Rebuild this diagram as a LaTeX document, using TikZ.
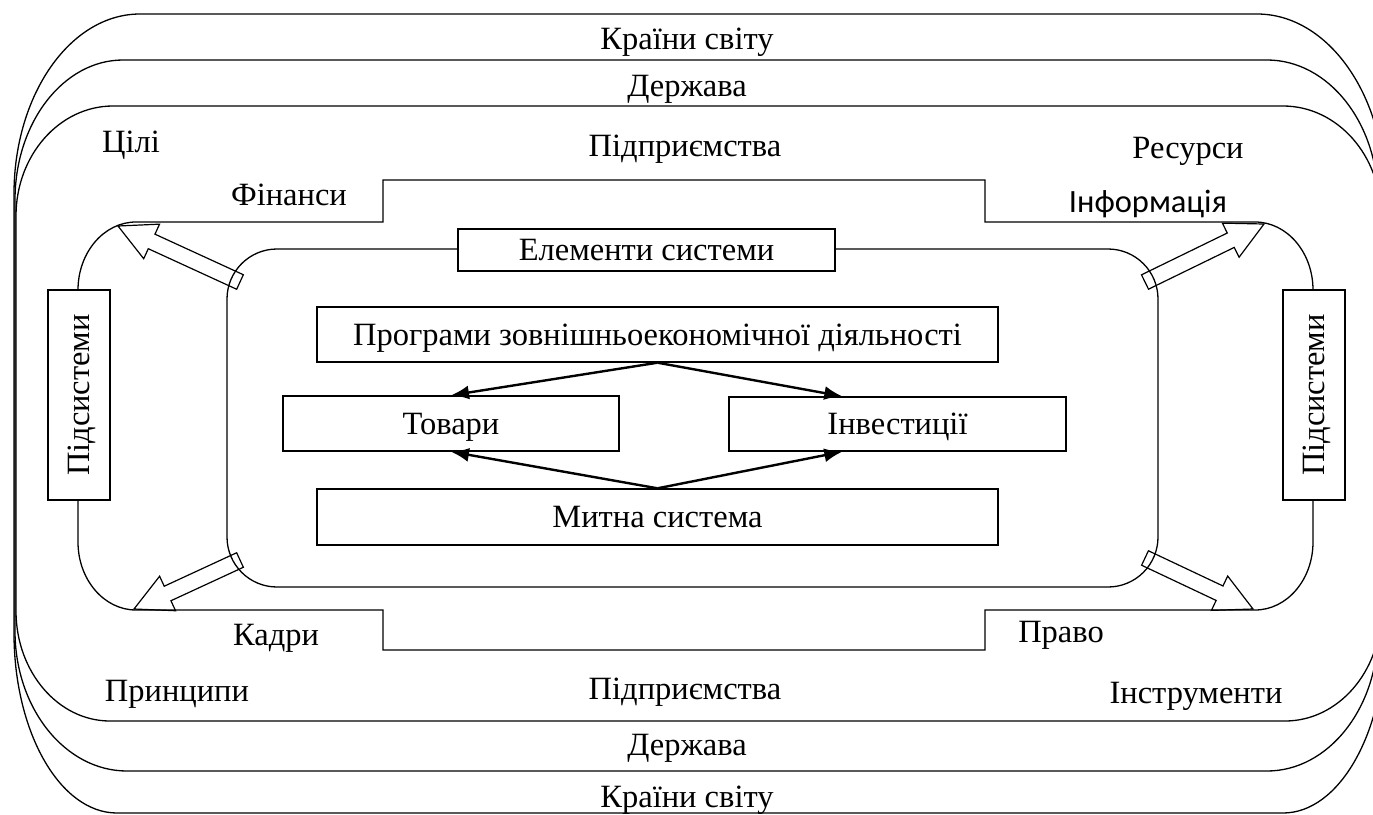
\documentclass[tikz,border=0pt]{standalone}
\usepackage{fontspec}
\setmainfont{Liberation Serif}
\newfontfamily\calibfont{Carlito}
\usetikzlibrary{calc,arrows.meta}
\tikzset{
  lbl/.style={font=\fontsize{32.5}{38}\selectfont, inner sep=0pt, text height=21.5pt, text depth=0pt},
  box/.style={lbl, draw, fill=white, line width=1.4pt},
  outline/.style={line width=1.3pt},
  flow/.style={line width=2.4pt, -{Latex[length=18pt,width=14pt]}},
  blk/.style={line width=1.2pt, line join=miter},
}
\newcommand\hollowarrow[2]{%
  \path ($(#2)!37pt!(#1)$) coordinate (hb);
  \draw[blk] ($(#1)!8pt!90:(#2)$) -- ($(hb)!8pt!-90:(#1)$) -- ($(hb)!19pt!-90:(#1)$) -- (#2)
    -- ($(hb)!19pt!90:(#1)$) -- ($(hb)!8pt!90:(#1)$) -- ($(#1)!8pt!-90:(#2)$) -- cycle;
}
\begin{document}
\begin{tikzpicture}[x=1pt,y=-1pt]
\useasboundingbox (0,0) rectangle (1373,814);
\begin{scope}
\clip (0,0) rectangle (1373,814);
% outer layers
\draw[outline] (140,14) -- (1257,14) arc[start angle=90,end angle=0,x radius=128pt,y radius=180pt]
  -- (1385,633) arc[start angle=0,end angle=-90,x radius=102pt,y radius=180pt]
  -- (117,813) arc[start angle=-90,end angle=-180,x radius=103pt,y radius=180pt]
  -- (14,194) arc[start angle=180,end angle=90,x radius=126pt,y radius=180pt] -- cycle;
\draw[outline] (123,60) -- (1267,60) arc[start angle=90,end angle=0,x radius=111pt,y radius=140pt]
  -- (1378,631) arc[start angle=0,end angle=-90,x radius=111pt,y radius=140pt]
  -- (127,771) arc[start angle=-90,end angle=-180,x radius=112pt,y radius=140pt]
  -- (15,200) arc[start angle=180,end angle=90,x radius=108pt,y radius=140pt] -- cycle;
\draw[outline] (113,106) -- (1283,106) arc[start angle=90,end angle=0,x radius=98pt,y radius=110pt]
  -- (1381,611) arc[start angle=0,end angle=-90,x radius=96pt,y radius=110pt]
  -- (110,721) arc[start angle=-90,end angle=-180,x radius=94pt,y radius=110pt]
  -- (16,216) arc[start angle=180,end angle=90,x radius=97pt,y radius=110pt] -- cycle;
% middle stepped shape
\draw[outline] (383,222) -- (383,180) -- (985,180) -- (985,222) -- (1255,222)
  arc[start angle=90,end angle=0,x radius=58pt,y radius=68pt]
  -- (1313,542) arc[start angle=0,end angle=-90,x radius=58pt,y radius=68pt]
  -- (985,610) -- (985,650) -- (383,650) -- (383,610) -- (136,610)
  arc[start angle=-90,end angle=-180,x radius=58pt,y radius=68pt]
  -- (78,290) arc[start angle=180,end angle=90,x radius=58pt,y radius=68pt] -- cycle;
% inner rounded rectangle
\draw[outline, rounded corners=50pt] (227,249) rectangle (1158,587);
\end{scope}

% layer labels
\node[lbl] (kr1) at (687,39) {Країни світу};
\node[lbl] (dr1) at (687,86) {Держава};
\node[lbl] (cili) at (131,142) {Цілі};
\node[lbl] (pd1) at (685,146) {Підприємства};
\node[lbl] (res) at (1188,148) {Ресурси};
\node[lbl] (fin) at (289,195) {Фінанси};
\node[lbl] (inf) at (1148,202) {\calibfont Інформація};
\node[lbl] (kad) at (276,635) {Кадри};
\node[lbl] (pravo) at (1061,632) {Право};
\node[lbl] (prin) at (177,691) {Принципи};
\node[lbl] (pd2) at (685,689) {Підприємства};
\node[lbl] (instr) at (1196,693) {Інструменти};
\node[lbl] (dr2) at (687,745) {Держава};
\node[lbl] (kr2) at (687,797) {Країни світу};

% boxes
\node[box, minimum width=377pt, minimum height=42pt] (elem) at (646.5,250) {Елементи системи};
\node[box, minimum width=681pt, minimum height=55pt] (prog) at (657.5,334.5) {Програми зовнішньоекономічної діяльності};
\node[box, minimum width=336pt, minimum height=55pt] (tov) at (451,423.5) {Товари};
\node[box, minimum width=337pt, minimum height=54pt] (inv) at (897.5,424) {Інвестиції};
\node[box, minimum width=681pt, minimum height=56pt] (myt) at (657.5,517) {Митна система};
\node[box, rotate=90, minimum width=210pt, minimum height=62pt] (subl) at (79,395) {Підсистеми};
\node[box, rotate=90, minimum width=210pt, minimum height=62pt] (subr) at (1314,395) {Підсистеми};

% flow arrows
\draw[flow] (prog.south) -- (tov.north);
\draw[flow] (prog.south) -- ([xshift=114pt]inv.north west);
\draw[flow] (myt.north) -- (tov.south);
\draw[flow] (myt.north) -- ([xshift=114pt]inv.south west);

% hollow block arrows
\coordinate (tlA) at (240,282); \coordinate (tlB) at (118,226);
\coordinate (trA) at (1145,282); \coordinate (trB) at (1264,224);
\coordinate (blA) at (240,560); \coordinate (blB) at (134,609);
\coordinate (brA) at (1145,558); \coordinate (brB) at (1253,609);
\hollowarrow{tlA}{tlB}
\hollowarrow{trA}{trB}
\hollowarrow{blA}{blB}
\hollowarrow{brA}{brB}
\end{tikzpicture}
\end{document}
